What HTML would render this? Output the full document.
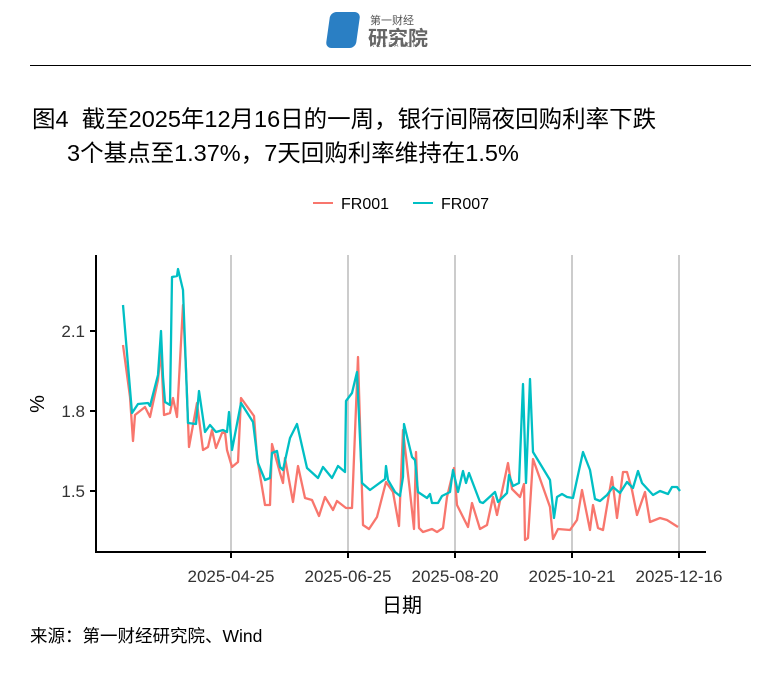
<!DOCTYPE html>
<html><head><meta charset="utf-8"><style>
body{margin:0;width:781px;height:687px;background:#fff;overflow:hidden;font-family:"Liberation Sans","Noto Sans CJK SC",sans-serif;}
.t{position:absolute;color:#000;white-space:nowrap;}
</style></head><body>
<div style="position:absolute;left:328px;top:12px;width:30px;height:36px;background:#2a7fc4;border-radius:6px;transform:skew(-8deg)"></div>
<div class="t" style="left:370px;top:12px;font-size:11px;color:#555">第一财经</div>
<div class="t" style="left:368px;top:22px;font-size:20px;color:#666;font-weight:bold">研究院</div>
<div class="t" style="left:370px;top:43px;font-size:6px;color:#666;letter-spacing:2px">RESEARCH</div>
<div style="position:absolute;left:30px;top:65px;width:721px;height:1px;background:#000"></div>
<div class="t" style="left:32px;top:100px;font-size:23.5px">图4&nbsp; 截至2025年12月16日的一周，银行间隔夜回购利率下跌</div>
<div class="t" style="left:67px;top:134px;font-size:23.5px">3个基点至1.37%，7天回购利率维持在1.5%</div>
<svg style="position:absolute;left:0;top:0" width="781" height="687">
<g font-family="Liberation Sans,sans-serif" font-size="16">
<line x1="313" y1="203" x2="333" y2="203" stroke="#f8766d" stroke-width="2"/><text x="341" y="209">FR001</text>
<line x1="413" y1="203" x2="433" y2="203" stroke="#00bfc4" stroke-width="2"/><text x="441" y="209">FR007</text>
</g>
<g stroke="#bbb" stroke-width="1.5">
<line x1="231" y1="255" x2="231" y2="552"/><line x1="348" y1="255" x2="348" y2="552"/><line x1="455" y1="255" x2="455" y2="552"/><line x1="572" y1="255" x2="572" y2="552"/><line x1="679" y1="255" x2="679" y2="552"/>
</g>
<polyline fill="none" stroke="#f8766d" stroke-width="2.3" stroke-linejoin="round" points="123,345 130,397 133,441 135,415 145,407 150,417 158,380 161,350 164,415 170,413 173,398 177,417 183,305 186,370 189,447 197,403 203,450 208,447 212,430 216,448 222,433 225,432 227,450 232,467 238,462 241,398 254,416 257,457 265,505 270,505 272,444 280,473 283,483 285,458 293,502 298,466 305,498 312,500 319,516 325,497 333,510 337,501 346,508 352,508 358,357 363,525 369,529 377,517 386,482 393,492 399,526 403,430 410,492 414,529 416,452 419,528 423,532 432,529 437,532 443,528 447,497 454,468 457,505 468,527 472,503 480,529 487,525 493,497 497,515 508,463 512,489 520,497 524,484 525,540 528,538 533,459 550,507 553,539 558,529 570,530 577,520 582,490 590,530 593,505 598,528 603,530 608,500 612,477 617,518 623,472 627,472 632,490 637,515 645,492 650,522 660,518 667,520 678,527"/>
<polyline fill="none" stroke="#00bfc4" stroke-width="2.3" stroke-linejoin="round" points="123,305 132,413 138,404 148,403 150,406 158,375 161,331 163,377 165,402 170,405 172,277 177,276 178,269 183,290 188,423 196,424 199,391 205,432 210,425 216,432 223,430 227,432 229,412 232,450 241,403 253,422 258,463 265,480 270,478 272,453 277,451 280,467 283,470 290,438 297,424 307,468 318,478 323,467 332,478 338,466 345,472 346,401 352,393 357,372 362,483 370,490 385,479 386,466 388,480 395,492 400,496 403,477 404,424 412,457 415,460 418,492 427,498 430,494 432,503 438,503 442,496 450,492 453,470 458,492 463,471 466,483 469,473 480,502 483,503 495,492 498,502 507,493 509,475 513,486 519,483 523,384 526,483 530,379 533,452 550,480 554,518 557,497 562,494 567,497 573,498 583,452 590,470 595,499 600,501 607,495 613,487 620,493 627,482 633,488 638,471 642,483 653,495 660,491 668,494 672,487 677,487 680,491"/>
<g stroke="#000" stroke-width="2">
<line x1="96" y1="255" x2="96" y2="553"/><line x1="95" y1="552" x2="706" y2="552"/>
<line x1="90" y1="331" x2="96" y2="331"/><line x1="90" y1="411" x2="96" y2="411"/><line x1="90" y1="491" x2="96" y2="491"/>
<line x1="231" y1="552" x2="231" y2="558"/><line x1="348" y1="552" x2="348" y2="558"/><line x1="455" y1="552" x2="455" y2="558"/><line x1="572" y1="552" x2="572" y2="558"/><line x1="679" y1="552" x2="679" y2="558"/>
</g>
<g font-family="Liberation Sans,sans-serif" font-size="17" fill="#333" text-anchor="end">
<text x="85" y="337">2.1</text><text x="85" y="417">1.8</text><text x="85" y="497">1.5</text>
</g>
<g font-family="Liberation Sans,sans-serif" font-size="17" fill="#333" text-anchor="middle">
<text x="231" y="582">2025-04-25</text><text x="348" y="582">2025-06-25</text><text x="455" y="582">2025-08-20</text><text x="572" y="582">2025-10-21</text><text x="679" y="582">2025-12-16</text>
</g>
<text x="44" y="404" font-family="Liberation Sans,sans-serif" font-size="20" text-anchor="middle" transform="rotate(-90 44 404)">%</text>
</svg>
<div class="t" style="left:382px;top:589px;font-size:20px">日期</div>
<div class="t" style="left:30px;top:623px;font-size:17.5px">来源：第一财经研究院、Wind</div>
</body></html>
